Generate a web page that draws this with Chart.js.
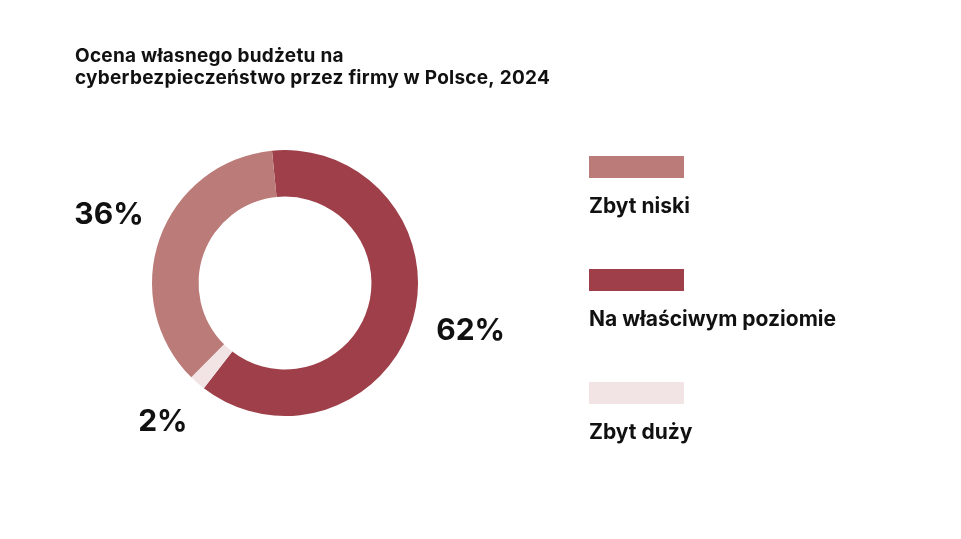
<!DOCTYPE html>
<html lang="pl">
<head>
<meta charset="utf-8">
<script src="https://cdn.jsdelivr.net/npm/chart.js@4/dist/chart.umd.min.js"></script>
<style>
  html, body { margin: 0; padding: 0; background: #ffffff; }
  #wrap { width: 961px; height: 539px; position: relative; }
</style>
</head>
<body>
<div id="wrap"><canvas id="chart"></canvas></div>
<script>
// Dane wykresu
const titleLines = ["Ocena własnego budżetu na", "cyberbezpieczeństwo przez firmy w Polsce, 2024"];
const categories = ["Na właściwym poziomie", "Zbyt duży", "Zbyt niski"];
const values = [62, 2, 36];
const colors = ["#9E3F49", "#F2E4E5", "#BB7B78"];
const legendOrder = [2, 0, 1];

const FONT = "Inter, 'Noto Sans', sans-serif";

const labelsPlugin = {
    id: "customLabels",
    afterDraw(chart) {
        const ctx = chart.ctx;
        const meta = chart.getDatasetMeta(0);

        ctx.save();
        ctx.fillStyle = "#111111";

        // tytuł
        ctx.font = "700 19px " + FONT;
        ctx.letterSpacing = "0.25px";
        ctx.textAlign = "left";
        ctx.textBaseline = "alphabetic";
        ctx.fillText(titleLines[0], 75, 62);
        ctx.fillText(titleLines[1], 75, 84);
        ctx.letterSpacing = "0px";

        // procenty wokół pierścienia
        ctx.font = "700 30px " + FONT;
        ctx.textAlign = "center";
        ctx.textBaseline = "middle";
        meta.data.forEach((arc, i) => {
            const mid = (arc.startAngle + arc.endAngle) / 2;
            const r = arc.outerRadius + 57;
            const x = arc.x + Math.cos(mid) * r;
            const y = arc.y + Math.sin(mid) * r;
            ctx.fillText(values[i] + "%", x + 3, y - 4);
        });

        // legenda: prostokąt nad etykietą
        ctx.textAlign = "left";
        ctx.textBaseline = "alphabetic";
        ctx.font = "700 21px " + FONT;
        legendOrder.forEach((idx, row) => {
            const top = 156 + row * 113;
            ctx.fillStyle = colors[idx];
            ctx.fillRect(589, top, 95, 22);
            ctx.fillStyle = "#111111";
            ctx.fillText(categories[idx], 589, top + 57);
        });

        ctx.restore();
    }
};

new Chart(document.getElementById("chart"), {
    type: "doughnut",
    data: {
        labels: categories,
        datasets: [
            {
                data: values,
                backgroundColor: colors,
                borderWidth: 0,
                hoverOffset: 0
            }
        ]
    },
    options: {
        responsive: true,
        maintainAspectRatio: false,
        animation: false,
        cutout: "65%",
        rotation: -5.6,
        layout: {
            padding: { left: 152, right: 543, top: 150, bottom: 123 }
        },
        plugins: {
            legend: { display: false },
            tooltip: { enabled: false }
        }
    },
    plugins: [labelsPlugin]
});
</script>
</body>
</html>
